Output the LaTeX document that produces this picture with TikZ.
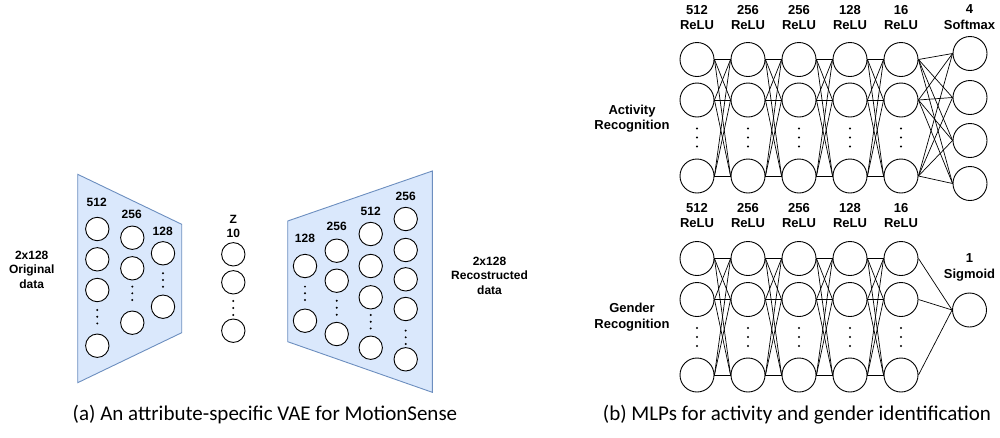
\documentclass[tikz,border=0pt]{standalone}
\usepackage{fontspec}
\setmainfont{Liberation Sans}
\newfontfamily\capfont{Carlito}
\definecolor{vaefill}{HTML}{DAE8FC}
\definecolor{vaedraw}{HTML}{6C8EBF}
\tikzset{
  vneuron/.style={circle, draw=black, fill=white, line width=0.9pt, minimum size=23.4pt, inner sep=0pt},
  mneuron/.style={circle, draw=black, fill=white, line width=0.9pt, minimum size=34pt, inner sep=0pt},
  vlbl/.style={font=\bfseries\fontsize{12}{14.5}\selectfont, inner sep=0pt, text height=8.6pt, text depth=0pt},
  vmulti/.style={font=\bfseries\fontsize{12}{14.5}\selectfont, inner sep=0pt, align=center, anchor=north},
  mmulti/.style={font=\bfseries\fontsize{13}{15.5}\selectfont, inner sep=0pt, align=center, anchor=north},
  trap/.style={fill=vaefill, draw=vaedraw, line width=0.9pt},
  conn/.style={draw=black, line width=0.7pt},
  caption/.style={font=\capfont\fontsize{21}{24}\selectfont, inner sep=0pt, anchor=base},
}
\newcommand{\vdotsat}[3]{\foreach \dd in {-1,0,1} \fill (#1,#2+\dd*#3) circle (1.1pt);}
\begin{document}
\begin{tikzpicture}[x=1pt,y=-1pt]
\useasboundingbox (0,0) rectangle (1000,437);

% ---------------- (a) VAE ----------------
\path[trap] (77.7,174.3) -- (181.7,224.3) -- (181.7,332.7) -- (77.7,382.7) -- cycle;
\path[trap] (287.7,221) -- (432.3,171) -- (432.3,392.3) -- (287.7,341.7) -- cycle;

\node[vmulti] (inlbl) at (31.7,250.7) {2x128\\Original\\data};
\node[vmulti] (outlbl) at (489.5,256.5) {2x128\\Recostructed\\data};

% encoder column 1 (512)
\node[vlbl] (e1l) at (96.7,202.3) {512};
\node[vneuron] (e1a) at (97.3,229) {};
\node[vneuron] (e1b) at (97.3,259.3) {};
\node[vneuron] (e1c) at (97.3,290) {};
\vdotsat{97.3}{316.7}{6.7}
\node[vneuron] (e1d) at (97.3,345.7) {};
% encoder column 2 (256)
\node[vlbl] (e2l) at (131.7,214.3) {256};
\node[vneuron] (e2a) at (132.3,237.7) {};
\node[vneuron] (e2b) at (132.3,268.3) {};
\vdotsat{132.3}{293.3}{6.7}
\node[vneuron] (e2c) at (132.3,322.7) {};
% encoder column 3 (128)
\node[vlbl] (e3l) at (162.7,231) {128};
\node[vneuron] (e3a) at (163,253.3) {};
\vdotsat{163}{280}{6.7}
\node[vneuron] (e3b) at (163,306.7) {};

% latent
\node[vmulti] (zl) at (233.3,214.7) {Z\\10};
\node[vneuron] (za) at (233.3,254.3) {};
\node[vneuron] (zb) at (233.3,282.3) {};
\vdotsat{233.3}{308}{7}
\node[vneuron] (zc) at (233.3,330.7) {};

% decoder column 1 (128)
\node[vlbl] (d1l) at (305,237.7) {128};
\node[vneuron] (d1a) at (305,266) {};
\vdotsat{305}{293.3}{6.7}
\node[vneuron] (d1b) at (305,320.7) {};
% decoder column 2 (256)
\node[vlbl] (d2l) at (336.7,225.7) {256};
\node[vneuron] (d2a) at (336.7,250.7) {};
\node[vneuron] (d2b) at (336.7,280.7) {};
\vdotsat{336.7}{307.7}{7}
\node[vneuron] (d2c) at (336.7,334) {};
% decoder column 3 (512)
\node[vlbl] (d3l) at (370.7,210.7) {512};
\node[vneuron] (d3a) at (370.7,234) {};
\node[vneuron] (d3b) at (370.7,266) {};
\node[vneuron] (d3c) at (370.7,297.3) {};
\vdotsat{370.7}{321.7}{6.7}
\node[vneuron] (d3d) at (370.7,347.7) {};
% decoder column 4 (256)
\node[vlbl] (d4l) at (405.7,195.7) {256};
\node[vneuron] (d4a) at (405.7,219) {};
\node[vneuron] (d4b) at (405.7,250) {};
\node[vneuron] (d4c) at (405.7,279.3) {};
\node[vneuron] (d4d) at (405.7,309) {};
\vdotsat{405.7}{337.3}{6.7}
\node[vneuron] (d4e) at (405.7,359.3) {};

% ---------------- (b) MLPs ----------------
\node[mmulti] (actl) at (632,104.5) {Activity\\Recognition};
\node[mmulti] (genl) at (632,303.3) {Gender\\Recognition};

\foreach \c/\x/\u in {1/697/512,2/748/256,3/799/256,4/850/128,5/901/16} {
  \node[mmulti] (al\c) at (\x,4.8) {\u\\ReLU};
  \node[mneuron] (a\c-1) at (\x,59.5) {};
  \node[mneuron] (a\c-2) at (\x,100) {};
  \node[mneuron] (a\c-4) at (\x,176) {};
  \vdotsat{\x}{137.5}{9}
  \node[mmulti] (gl\c) at (\x,203) {\u\\ReLU};
  \node[mneuron] (g\c-1) at (\x,258.5) {};
  \node[mneuron] (g\c-2) at (\x,299.5) {};
  \node[mneuron] (g\c-4) at (\x,375) {};
  \vdotsat{\x}{337}{9}
}
\node[mmulti] (aol) at (969.5,4.8) {4\\Softmax};
\foreach \k/\y in {1/53.5,2/97.5,3/140.5,4/183.5}
  \node[mneuron] (ao\k) at (970,\y) {};
\node[mmulti] (gol) at (969.5,253.6) {1\\Sigmoid};
\node[mneuron] (go) at (969.5,310) {};

\foreach \c/\n in {1/2,2/3,3/4,4/5}
  \foreach \i in {1,2,4}
    \foreach \j in {1,2,4} {
      \draw[conn] (a\c-\i.east) -- (a\n-\j.west);
      \draw[conn] (g\c-\i.east) -- (g\n-\j.west);
    }
\foreach \i in {1,2,4} {
  \foreach \k in {1,2,3,4}
    \draw[conn] (a5-\i.east) -- (ao\k.west);
  \draw[conn] (g5-\i.east) -- (go.west);
}

% captions
\node[caption] (capa) at (265,420) {(a) An attribute-specific VAE for MotionSense};
\node[caption] (capb) at (797,420) {(b) MLPs for activity and gender identification};
\end{tikzpicture}
\end{document}
